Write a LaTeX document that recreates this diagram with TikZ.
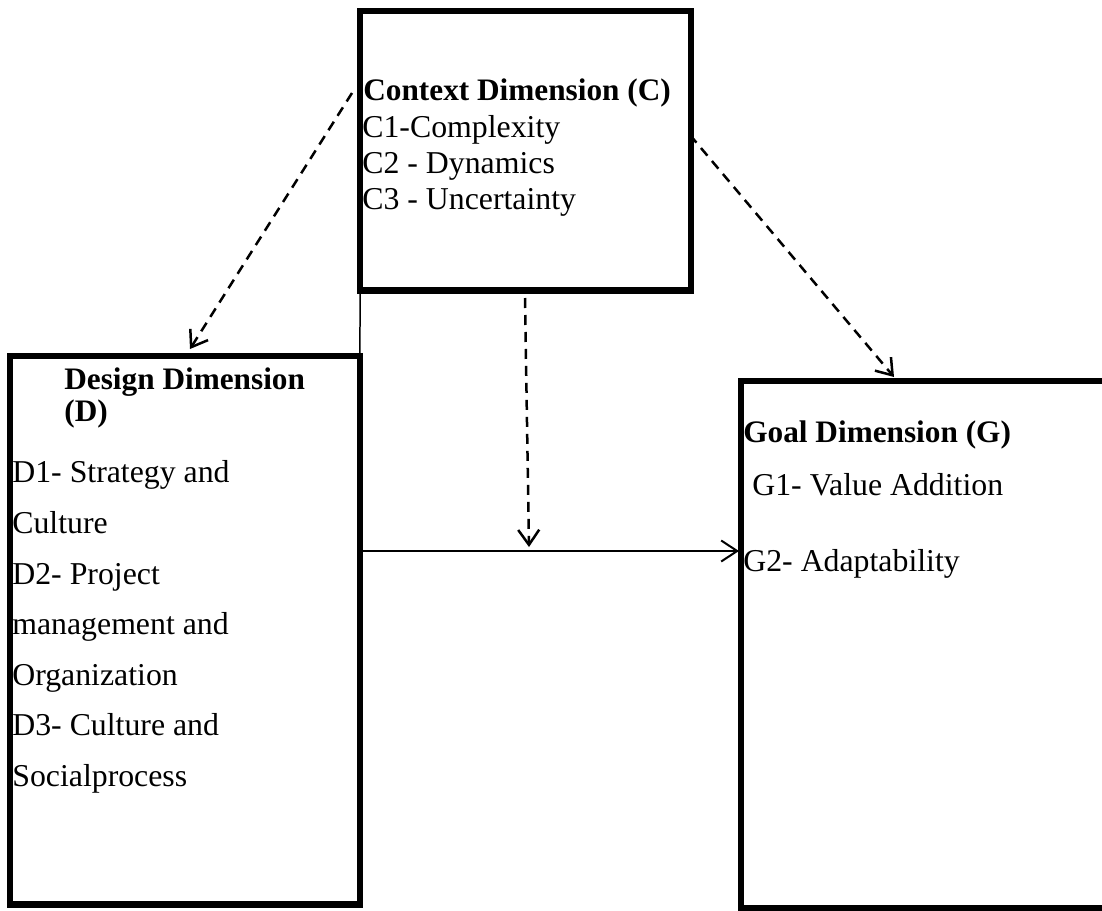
\documentclass[tikz,border=0pt]{standalone}
\usepackage{fontspec}
\setmainfont{Liberation Serif}
\usetikzlibrary{arrows.meta}
\begin{document}
\begin{tikzpicture}[x=0.02cm,y=-0.02cm,
  dimbox/.style={draw,line width=0.13cm,inner sep=0pt,outer sep=0pt},
  txt/.style={anchor=base west,inner sep=0pt,font=\fontsize{18.1}{21}\selectfont},
  hd/.style={anchor=base west,inner sep=0pt,font=\fontsize{17.8}{21}\selectfont\bfseries},
  dasharrow/.style={line width=0.05cm,dash pattern=on 0.2cm off 0.14cm,-{Straight Barb[length=0.3cm,width=0.42cm]}},
  solidarrow/.style={line width=0.04cm,-{Straight Barb[length=0.32cm,width=0.42cm]}},
  thinline/.style={line width=0.03cm}]
\useasboundingbox (0,0) rectangle (1102,910);
\begin{scope}
\clip (0,0) rectangle (1102,910);
% boxes
\node[dimbox,minimum width=6.62cm,minimum height=5.59cm] (C) at (525.5,150.75) {};
\node[dimbox,minimum width=7cm,minimum height=10.97cm] (D) at (185,630.25) {};
\node[dimbox,minimum width=7.34cm,minimum height=10.54cm] (G) at (924.5,644.5) {};
\end{scope}
\draw[thinline] (C.south west) -- (D.north east);
% texts
\node[hd] (ch) at (363,100) {Context Dimension (C)};
\node[txt] (c1) at (362,137) {C1-Complexity};
\node[txt] (c2) at (362,173) {C2 - Dynamics};
\node[txt] (c3) at (362,209) {C3 - Uncertainty};
\node[hd] (dh1) at (64,389) {Design Dimension};
\node[hd] (dh2) at (64,421) {(D)};
\node[txt] (d1) at (12,482) {D1- Strategy and};
\node[txt] (d1b) at (12,533) {Culture};
\node[txt] (d2) at (12,584) {D2- Project};
\node[txt] (d2b) at (12,634) {management and};
\node[txt] (d2c) at (12,685) {Organization};
\node[txt] (d3) at (12,735) {D3- Culture and};
\node[txt] (d3b) at (12,786) {Socialprocess};
\node[hd] (gh) at (743,442) {Goal Dimension (G)};
\node[txt] (g1) at (752,495) {G1- Value Addition};
\node[txt] (g2) at (743,571) {G2- Adaptability};
% connector end points
\coordinate (a1s) at (352,93);
\coordinate (a1e) at (190,349);
\coordinate (a2s) at (690,135);
\coordinate (a2e) at (894,377);
\coordinate (a3s) at (525,298);
\coordinate (a3e) at (529,547);
\coordinate (a4s) at (362,551);
\coordinate (a4e) at (739,551);
\draw[dasharrow] (a1s) -- (a1e);
\draw[dasharrow] (a2s) -- (a2e);
\draw[dasharrow] (a3s) -- (a3e);
\draw[solidarrow] (a4s) -- (a4e);
\end{tikzpicture}
\end{document}
